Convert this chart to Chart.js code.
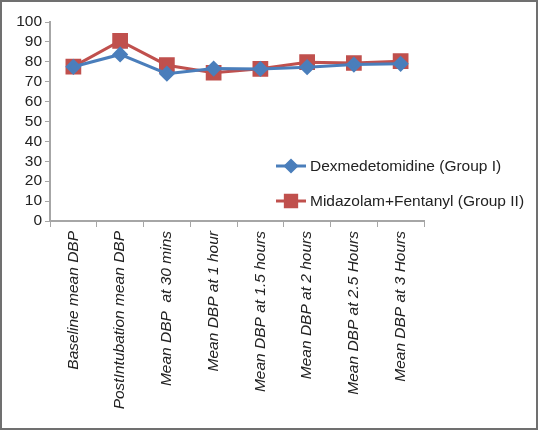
<!DOCTYPE html>
<html><head><meta charset="utf-8">
<script src="https://cdn.jsdelivr.net/npm/chart.js@4/dist/chart.umd.min.js"></script>
<style>html,body{margin:0;padding:0;background:#fff;}#wrap{width:538px;height:430px;position:relative;}</style>
</head><body><div id="wrap"><canvas id="c" width="538" height="430"></canvas></div>
<script>
const categories = ["Baseline mean DBP","PostIntubation mean DBP","Mean DBP  at 30 mins","Mean DBP at 1 hour","Mean DBP at 1.5 hours","Mean DBP at 2 hours","Mean DBP at 2.5 Hours","Mean DBP at 3 Hours"];
const seriesNames = ["Dexmedetomidine (Group I)","Midazolam+Fentanyl (Group II)"];
const dexValues = [77.5, 83.7, 74.0, 76.6, 76.4, 77.3, 78.6, 79.0];
const midValues = [77.6, 90.5, 78.3, 74.5, 76.5, 79.8, 79.4, 80.3];
const yTicks = [0,10,20,30,40,50,60,70,80,90,100];

const FONT = '"Liberation Sans", Arial, sans-serif';

const frameAndLegend = {
  id: 'frameAndLegend',
  afterDraw(chart) {
    const ctx = chart.ctx;
    ctx.save();
    ctx.strokeStyle = '#707070';
    ctx.lineWidth = 2;
    ctx.strokeRect(1, 1, 536, 428);
    const ys = [166, 201];
    chart.data.datasets.forEach((ds, i) => {
      const y = ys[i];
      ctx.strokeStyle = ds.borderColor;
      ctx.lineWidth = 3;
      ctx.beginPath(); ctx.moveTo(276, y); ctx.lineTo(306, y); ctx.stroke();
      ctx.fillStyle = ds.pointBackgroundColor;
      ctx.strokeStyle = ds.pointBorderColor;
      Chart.helpers.drawPoint(ctx, {pointStyle: ds.pointStyle, radius: i === 0 ? 5.5 : 8, borderWidth: 1}, 291, y);
      ctx.fillStyle = '#222';
      ctx.font = '15.5px ' + FONT;
      ctx.textBaseline = 'middle';
      ctx.textAlign = 'left';
      ctx.fillText(ds.label, 310, y + 1);
    });
    ctx.restore();
  }
};

new Chart(document.getElementById('c'), {
  type: 'line',
  data: {
    labels: categories,
    datasets: [
      {label: seriesNames[0], data: dexValues, borderColor: '#4a7ebb', backgroundColor: '#4a7ebb', pointBackgroundColor: '#4a7ebb', pointBorderColor: '#4a7ebb', borderWidth: 3, pointStyle: 'rectRot', pointRadius: 6, pointHoverRadius: 6, tension: 0},
      {label: seriesNames[1], data: midValues, borderColor: '#c0504d', backgroundColor: '#c0504d', pointBackgroundColor: '#c0504d', pointBorderColor: '#c0504d', borderWidth: 3, pointStyle: 'rect', pointRadius: 9, pointHoverRadius: 9, tension: 0}
    ]
  },
  options: {
    responsive: false,
    animation: false,
    layout: {padding: {left: 0, top: 22, right: 114, bottom: 0}},
    plugins: {legend: {display: false}, tooltip: {enabled: false}},
    scales: {
      x: {
        offset: true,
        grid: {display: true, drawOnChartArea: false, offset: true, color: '#a6a6a6', tickLength: 6, lineWidth: 1},
        border: {color: '#a6a6a6', width: 2},
        ticks: {minRotation: 90, maxRotation: 90, autoSkip: false, color: '#222', padding: 4, font: {family: FONT, size: 15.5, style: 'italic'}},
        afterFit(s) { s.height = 209; }
      },
      y: {
        min: 0, max: 100,
        afterBuildTicks(s) { s.ticks = yTicks.map(v => ({value: v})); },
        grid: {display: true, drawOnChartArea: false, color: '#a6a6a6', tickLength: 5},
        border: {color: '#a6a6a6', width: 2},
        ticks: {autoSkip: false, color: '#222', padding: 3, font: {family: FONT, size: 15.5}},
        afterFit(s) { s.width = 50; }
      }
    }
  },
  plugins: [frameAndLegend]
});
</script></body></html>
